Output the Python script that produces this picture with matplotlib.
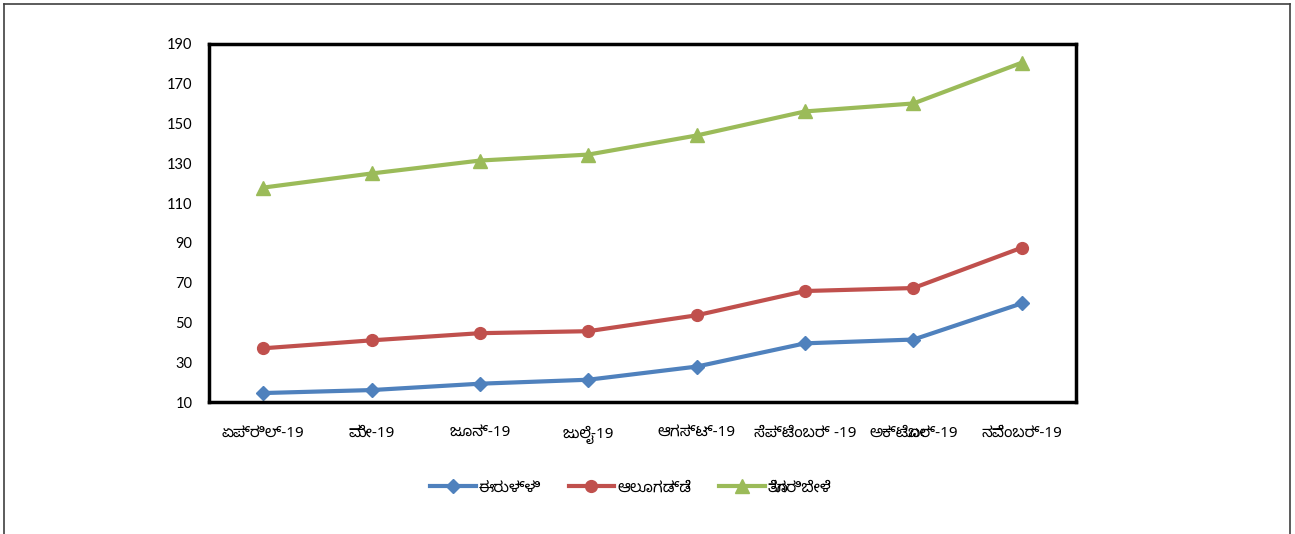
import matplotlib
matplotlib.use("Agg")
import matplotlib.pyplot as plt
from matplotlib import font_manager
from matplotlib.ft2font import FT2Font
from matplotlib.lines import Line2D

# ---- data ----
months = ["ಏಪ್ರಿಲ್-19", "ಮೇ-19", "ಜೂನ್-19", "ಜುಲೈ-19", "ಆಗಸ್ಟ್-19",
          "ಸೆಪ್ಟೆಂಬರ್ -19", "ಅಕ್ಟೋಬರ್-19", "ನವೆಂಬರ್-19"]
series_names = ["ಈರುಳ್ಳಿ", "ಆಲೂಗಡ್ಡೆ", "ತೊಗರಿಬೇಳೆ"]
onion = [14.5, 16, 19.2, 21.2, 27.8, 39.5, 41.4, 59.6]
potato = [37.0, 41.0, 44.6, 45.6, 53.6, 65.8, 67.3, 87.6]
toor_dal = [117.8, 124.9, 131.4, 134.4, 144.0, 156.1, 160.1, 180.6]
y_ticks = [10, 30, 50, 70, 90, 110, 130, 150, 170, 190]

# ---- pick a font that covers Kannada ----
found = set()
for f in font_manager.fontManager.ttflist:
    try:
        cm = FT2Font(f.fname).get_charmap()
        if 0x0C8F in cm and 0x0CB0 in cm:
            found.add(f.name)
    except Exception:
        pass
kn_family = None
for cand in ["Noto Sans Kannada", "Noto Sans Kannada UI", "Hind Mysuru", "Anek Kannada"]:
    if cand in found:
        kn_family = cand
        break
if kn_family is None and found:
    kn_family = sorted(found)[0]
families = ([kn_family] if kn_family else []) + ["DejaVu Sans"]
plt.rcParams["font.family"] = families

fig = plt.figure(figsize=(12.95, 5.34), dpi=100)
ax = fig.add_axes([209/1295, 1 - 402/534, (1076-209)/1295, (402-44)/534])

x = list(range(len(months)))
ax.plot(x, onion, color="#4F81BD", lw=3.0, marker="D", ms=7, label=series_names[0])
ax.plot(x, potato, color="#C0504D", lw=3.0, marker="o", ms=8.5, label=series_names[1])
ax.plot(x, toor_dal, color="#9BBB59", lw=3.0, marker="^", ms=9.5, label=series_names[2])

ax.set_xlim(-0.5, len(months) - 0.5)
ax.set_ylim(10, 190)
ax.set_yticks(y_ticks)
ax.set_yticklabels([str(v) for v in y_ticks], fontsize=10.5, family=["Lato", "DejaVu Sans"])
ax.set_xticks(x)
ax.set_xticklabels(months, fontsize=11)
ax.tick_params(axis="both", length=0)
ax.tick_params(axis="y", pad=12)
ax.tick_params(axis="x", pad=17)
for s in ax.spines.values():
    s.set_linewidth(2.5)
    s.set_color("black")

fig.legend(loc="center", bbox_to_anchor=(0.487, 1 - 488/534), ncol=3, frameon=False,
           fontsize=11, handlelength=3.0, columnspacing=1.8, handletextpad=0.2)

# outer frame (left, top, right)
c = "#404040"
fig.add_artist(Line2D([4/1295, 4/1295], [0, 1 - 4/534], color=c, lw=1.2, transform=fig.transFigure))
fig.add_artist(Line2D([4/1295, 1290/1295], [1 - 4/534, 1 - 4/534], color=c, lw=1.2, transform=fig.transFigure))
fig.add_artist(Line2D([1290/1295, 1290/1295], [0, 1 - 4/534], color=c, lw=1.2, transform=fig.transFigure))

fig.savefig("out.png", dpi=100)
